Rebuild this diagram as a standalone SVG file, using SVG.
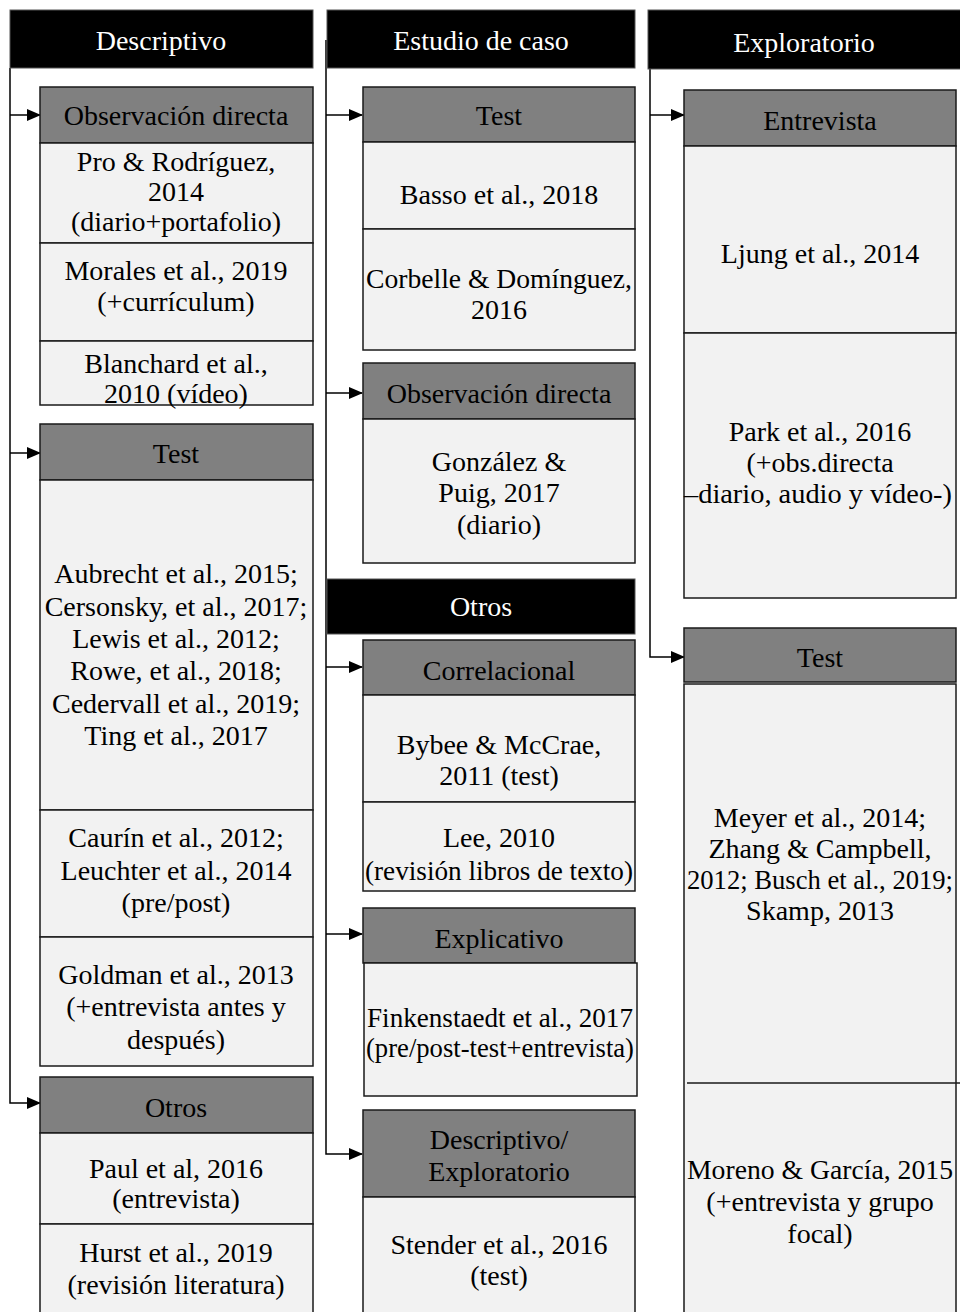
<svg xmlns="http://www.w3.org/2000/svg" width="960" height="1312" viewBox="0 0 960 1312">
<style>
text{font-family:"Liberation Serif","Times New Roman",serif;font-size:28px;text-anchor:middle;fill:#000}
.hdr{fill:#000;stroke:#555;stroke-width:1}
.hdr-t{fill:#fff}
.sub{fill:#808080;stroke:#1a1a1a;stroke-width:1.5}
.cell{fill:#f2f2f2;stroke:#1a1a1a;stroke-width:1.5}
.conn{fill:none;stroke:#000;stroke-width:1.5}
</style>
<defs>
<marker id="arr" markerUnits="userSpaceOnUse" markerWidth="14" markerHeight="12" refX="13" refY="6" orient="auto">
<path d="M0,0 L14,6 L0,12 Z" fill="#000"/>
</marker>
</defs>
<rect width="960" height="1312" fill="#fff"/>

<g id="connectors">
<path class="conn" d="M10,68 V1103 H40" marker-end="url(#arr)"/>
<path class="conn" d="M10,115 H40" marker-end="url(#arr)"/>
<path class="conn" d="M10,453 H40" marker-end="url(#arr)"/>
<path class="conn" d="M326,40 V1154 H362" marker-end="url(#arr)"/>
<path class="conn" d="M326,115 H362" marker-end="url(#arr)"/>
<path class="conn" d="M326,393 H362" marker-end="url(#arr)"/>
<path class="conn" d="M326,667 H362" marker-end="url(#arr)"/>
<path class="conn" d="M326,934 H362" marker-end="url(#arr)"/>
<path class="conn" d="M650,69 V657 H684" marker-end="url(#arr)"/>
<path class="conn" d="M650,115 H684" marker-end="url(#arr)"/>
</g>

<!-- Column 1 -->
<g id="descriptivo">
<rect class="hdr" x="10" y="10" width="303" height="58"/>
<text class="hdr-t" x="161" y="50">Descriptivo</text>
</g>
<g id="desc-obs">
<rect class="sub" x="40" y="87" width="273" height="56"/>
<text x="176" y="125">Observación directa</text>
<rect class="cell" x="40" y="143" width="273" height="100"/>
<text x="176" y="171">Pro &amp; Rodríguez,</text>
<text x="176" y="201">2014</text>
<text x="176" y="231">(diario+portafolio)</text>
<rect class="cell" x="40" y="243" width="273" height="98"/>
<text x="176" y="280">Morales et al., 2019</text>
<text x="176" y="311">(+currículum)</text>
<rect class="cell" x="40" y="341" width="273" height="64"/>
<text x="176" y="373">Blanchard et al.,</text>
<text x="176" y="403">2010 (vídeo)</text>
</g>
<g id="desc-test">
<rect class="sub" x="40" y="424" width="273" height="56"/>
<text x="176" y="463">Test</text>
<rect class="cell" x="40" y="480" width="273" height="330"/>
<text x="176" y="583">Aubrecht et al., 2015;</text>
<text x="176" y="616">Cersonsky, et al., 2017;</text>
<text x="176" y="648">Lewis et al., 2012;</text>
<text x="176" y="680">Rowe, et al., 2018;</text>
<text x="176" y="713">Cedervall et al., 2019;</text>
<text x="176" y="745">Ting et al., 2017</text>
<rect class="cell" x="40" y="810" width="273" height="127"/>
<text x="176" y="847">Caurín et al., 2012;</text>
<text x="176" y="880">Leuchter et al., 2014</text>
<text x="176" y="912">(pre/post)</text>
<rect class="cell" x="40" y="937" width="273" height="129"/>
<text x="176" y="984">Goldman et al., 2013</text>
<text x="176" y="1016">(+entrevista antes y</text>
<text x="176" y="1049">después)</text>
</g>
<g id="desc-otros">
<rect class="sub" x="40" y="1077" width="273" height="56"/>
<text x="176" y="1117">Otros</text>
<rect class="cell" x="40" y="1133" width="273" height="91"/>
<text x="176" y="1178">Paul et al, 2016</text>
<text x="176" y="1208">(entrevista)</text>
<rect class="cell" x="40" y="1224" width="273" height="100"/>
<text x="176" y="1262">Hurst et al., 2019</text>
<text x="176" y="1294">(revisión literatura)</text>
</g>

<!-- Column 2 -->
<g id="estudio">
<rect class="hdr" x="327" y="10" width="308" height="58"/>
<text class="hdr-t" x="481" y="50">Estudio de caso</text>
</g>
<g id="caso-test">
<rect class="sub" x="363" y="87" width="272" height="55"/>
<text x="499" y="125">Test</text>
<rect class="cell" x="363" y="142" width="272" height="87"/>
<text x="499" y="204">Basso et al., 2018</text>
<rect class="cell" x="363" y="229" width="272" height="121"/>
<text x="499" y="288" textLength="266" lengthAdjust="spacingAndGlyphs">Corbelle &amp; Domínguez,</text>
<text x="499" y="319">2016</text>
</g>
<g id="caso-obs">
<rect class="sub" x="363" y="363" width="272" height="56"/>
<text x="499" y="403">Observación directa</text>
<rect class="cell" x="363" y="419" width="272" height="144"/>
<text x="499" y="471">González &amp;</text>
<text x="499" y="502">Puig, 2017</text>
<text x="499" y="534">(diario)</text>
</g>
<g id="otros">
<rect class="hdr" x="327" y="579" width="308" height="55"/>
<text class="hdr-t" x="481" y="616">Otros</text>
</g>
<g id="otros-corr">
<rect class="sub" x="363" y="640" width="272" height="55"/>
<text x="499" y="680">Correlacional</text>
<rect class="cell" x="363" y="695" width="272" height="107"/>
<text x="499" y="754">Bybee &amp; McCrae,</text>
<text x="499" y="785">2011 (test)</text>
<rect class="cell" x="363" y="802" width="272" height="89"/>
<text x="499" y="847">Lee, 2010</text>
<text x="499" y="880" textLength="268" lengthAdjust="spacingAndGlyphs">(revisión libros de texto)</text>
</g>
<g id="otros-expl">
<rect class="sub" x="363" y="908" width="272" height="55"/>
<text x="499" y="948">Explicativo</text>
<rect class="cell" x="364" y="963" width="273" height="133"/>
<text x="500" y="1027" textLength="266" lengthAdjust="spacingAndGlyphs">Finkenstaedt et al., 2017</text>
<text x="500" y="1057" textLength="268" lengthAdjust="spacingAndGlyphs">(pre/post-test+entrevista)</text>
</g>
<g id="otros-descexp">
<rect class="sub" x="363" y="1110" width="272" height="87"/>
<text x="499" y="1149">Descriptivo/</text>
<text x="499" y="1181">Exploratorio</text>
<rect class="cell" x="363" y="1197" width="272" height="130"/>
<text x="499" y="1254">Stender et al., 2016</text>
<text x="499" y="1285">(test)</text>
</g>

<!-- Column 3 -->
<g id="exploratorio">
<rect class="hdr" x="648" y="10" width="320" height="59"/>
<text class="hdr-t" x="804" y="52">Exploratorio</text>
</g>
<g id="expl-entrevista">
<rect class="sub" x="684" y="90" width="272" height="56"/>
<text x="820" y="130">Entrevista</text>
<rect class="cell" x="684" y="146" width="272" height="187"/>
<text x="820" y="263">Ljung et al., 2014</text>
<rect class="cell" x="684" y="333" width="272" height="265"/>
<text x="820" y="441">Park et al., 2016</text>
<text x="820" y="472">(+obs.directa</text>
<text x="818" y="503" textLength="268" lengthAdjust="spacingAndGlyphs">–diario, audio y vídeo-)</text>
</g>
<g id="expl-test">
<rect class="sub" x="684" y="628" width="272" height="54"/>
<text x="820" y="667">Test</text>
<rect class="cell" x="684" y="684" width="272" height="640"/>
<line x1="687" y1="1083" x2="960" y2="1083" stroke="#1a1a1a" stroke-width="1.5"/>
<text x="820" y="827">Meyer et al., 2014;</text>
<text x="820" y="858">Zhang &amp; Campbell,</text>
<text x="820" y="889" textLength="266" lengthAdjust="spacingAndGlyphs">2012; Busch et al., 2019;</text>
<text x="820" y="920">Skamp, 2013</text>
<text x="820" y="1179" textLength="266" lengthAdjust="spacingAndGlyphs">Moreno &amp; García, 2015</text>
<text x="820" y="1211">(+entrevista y grupo</text>
<text x="820" y="1243">focal)</text>
</g>
</svg>
